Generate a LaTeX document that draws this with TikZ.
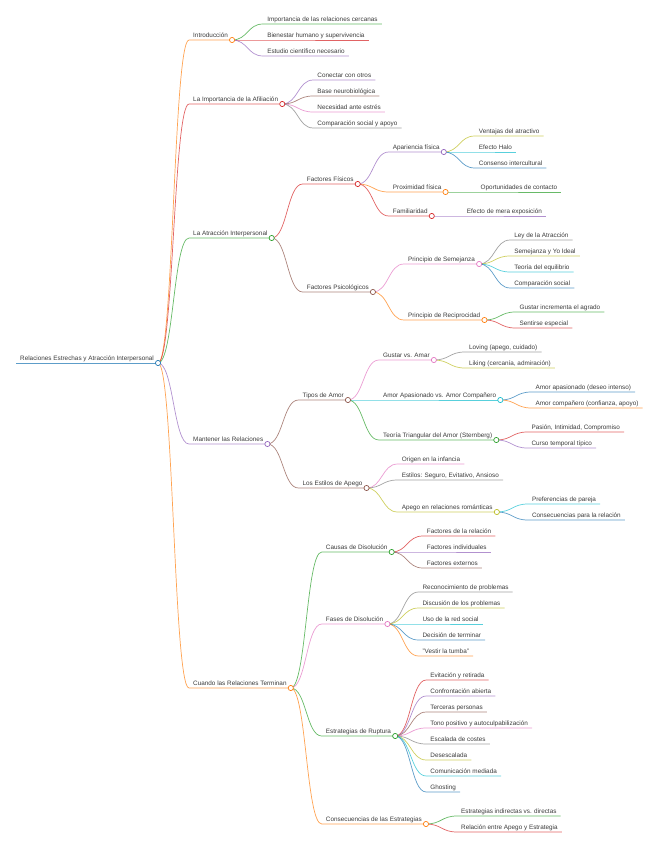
\documentclass[tikz,border=0pt]{standalone}
\usepackage{fontspec}
\setmainfont{Liberation Sans}
\usetikzlibrary{calc}
\definecolor{ink}{HTML}{3A3A3A}
\definecolor{mblue}{HTML}{1F77B4}
\definecolor{morange}{HTML}{FF7F0E}
\definecolor{mgreen}{HTML}{2CA02C}
\definecolor{mred}{HTML}{D62728}
\definecolor{mpurple}{HTML}{9467BD}
\definecolor{mbrown}{HTML}{8C564B}
\definecolor{mpink}{HTML}{E377C2}
\definecolor{mgray}{HTML}{7F7F7F}
\definecolor{molive}{HTML}{BCBD22}
\definecolor{mcyan}{HTML}{17BECF}
\tikzset{
  topic/.style={anchor=south west, inner xsep=4pt, inner ysep=2pt, text depth=0pt,
    text=ink, font=\fontsize{6.36}{7.5}\selectfont},
  link/.style={draw=#1, draw opacity=0.72, line width=0.7pt},
  knob/.style={draw=#1, fill=white, line width=0.7pt},
}

\begin{document}
\begin{tikzpicture}[x=1pt,y=-1pt]
            \useasboundingbox (0,0) rectangle (658,848);
            \node[topic] (root) at (16,363) {Relaciones Estrechas y Atracción Interpersonal};
            % first level
            \node[topic] (intro) at ($(root.south east)+(31,-323)$) {Introducción};
            \node[topic] (afil) at ($(root.south east)+(31,-259)$) {La Importancia de la Afiliación};
            \node[topic] (atrac) at ($(root.south east)+(31,-125)$) {La Atracción Interpersonal};
            \node[topic] (mant) at ($(root.south east)+(31,81)$) {Mantener las Relaciones};
            \node[topic] (fin) at ($(root.south east)+(31,325)$) {Cuando las Relaciones Terminan};
            % Introduccion
            \node[topic] (intro1) at ($(intro.south east)+(31,-16)$) {Importancia de las relaciones cercanas};
            \node[topic] (intro2) at ($(intro.south east)+(31,0)$) {Bienestar humano y supervivencia};
            \node[topic] (intro3) at ($(intro.south east)+(31,16)$) {Estudio científico necesario};
            % Afiliacion
            \node[topic] (afil1) at ($(afil.south east)+(31,-24)$) {Conectar con otros};
            \node[topic] (afil2) at ($(afil.south east)+(31,-8)$) {Base neurobiológica};
            \node[topic] (afil3) at ($(afil.south east)+(31,8)$) {Necesidad ante estrés};
            \node[topic] (afil4) at ($(afil.south east)+(31,24)$) {Comparación social y apoyo};
            % Atraccion
            \node[topic] (fisicos) at ($(atrac.south east)+(31,-54)$) {Factores Físicos};
            \node[topic] (psico) at ($(atrac.south east)+(31,54)$) {Factores Psicológicos};
            \node[topic] (apariencia) at ($(fisicos.south east)+(31,-32)$) {Apariencia física};
            \node[topic] (proximidad) at ($(fisicos.south east)+(31,8)$) {Proximidad física};
            \node[topic] (familiaridad) at ($(fisicos.south east)+(31,32)$) {Familiaridad};
            \node[topic] (apar1) at ($(apariencia.south east)+(31,-16)$) {Ventajas del atractivo};
            \node[topic] (apar2) at ($(apariencia.south east)+(31,0)$) {Efecto Halo};
            \node[topic] (apar3) at ($(apariencia.south east)+(31,16)$) {Consenso intercultural};
            \node[topic] (prox1) at ($(proximidad.south east)+(31,0)$) {Oportunidades de contacto};
            \node[topic] (fam1) at ($(familiaridad.south east)+(31,0)$) {Efecto de mera exposición};
            \node[topic] (semejanza) at ($(psico.south east)+(31,-28)$) {Principio de Semejanza};
            \node[topic] (reciprocidad) at ($(psico.south east)+(31,28)$) {Principio de Reciprocidad};
            \node[topic] (sem1) at ($(semejanza.south east)+(31,-24)$) {Ley de la Atracción};
            \node[topic] (sem2) at ($(semejanza.south east)+(31,-8)$) {Semejanza y Yo Ideal};
            \node[topic] (sem3) at ($(semejanza.south east)+(31,8)$) {Teoría del equilibrio};
            \node[topic] (sem4) at ($(semejanza.south east)+(31,24)$) {Comparación social};
            \node[topic] (rec1) at ($(reciprocidad.south east)+(31,-8)$) {Gustar incrementa el agrado};
            \node[topic] (rec2) at ($(reciprocidad.south east)+(31,8)$) {Sentirse especial};
            % Mantener
            \node[topic] (tipos) at ($(mant.south east)+(31,-44)$) {Tipos de Amor};
            \node[topic] (apego) at ($(mant.south east)+(31,44)$) {Los Estilos de Apego};
            \node[topic] (gustar) at ($(tipos.south east)+(31,-40)$) {Gustar vs. Amar};
            \node[topic] (apasionado) at ($(tipos.south east)+(31,0)$) {Amor Apasionado vs. Amor Compañero};
            \node[topic] (triangular) at ($(tipos.south east)+(31,40)$) {Teoría Triangular del Amor (Sternberg)};
            \node[topic] (gus1) at ($(gustar.south east)+(31,-8)$) {Loving (apego, cuidado)};
            \node[topic] (gus2) at ($(gustar.south east)+(31,8)$) {Liking (cercanía, admiración)};
            \node[topic] (apa1) at ($(apasionado.south east)+(31,-8)$) {Amor apasionado (deseo intenso)};
            \node[topic] (apa2) at ($(apasionado.south east)+(31,8)$) {Amor compañero (confianza, apoyo)};
            \node[topic] (tri1) at ($(triangular.south east)+(31,-8)$) {Pasión, Intimidad, Compromiso};
            \node[topic] (tri2) at ($(triangular.south east)+(31,8)$) {Curso temporal típico};
            \node[topic] (ape1) at ($(apego.south east)+(31,-24)$) {Origen en la infancia};
            \node[topic] (ape2) at ($(apego.south east)+(31,-8)$) {Estilos: Seguro, Evitativo, Ansioso};
            \node[topic] (romantico) at ($(apego.south east)+(31,24)$) {Apego en relaciones románticas};
            \node[topic] (rom1) at ($(romantico.south east)+(31,-8)$) {Preferencias de pareja};
            \node[topic] (rom2) at ($(romantico.south east)+(31,8)$) {Consecuencias para la relación};
            % Cuando terminan
            \node[topic] (causas) at ($(fin.south east)+(31,-136)$) {Causas de Disolución};
            \node[topic] (fases) at ($(fin.south east)+(31,-64)$) {Fases de Disolución};
            \node[topic] (ruptura) at ($(fin.south east)+(31,48)$) {Estrategias de Ruptura};
            \node[topic] (consec) at ($(fin.south east)+(31,136)$) {Consecuencias de las Estrategias};
            \node[topic] (cau1) at ($(causas.south east)+(31,-16)$) {Factores de la relación};
            \node[topic] (cau2) at ($(causas.south east)+(31,0)$) {Factores individuales};
            \node[topic] (cau3) at ($(causas.south east)+(31,16)$) {Factores externos};
            \node[topic] (fas1) at ($(fases.south east)+(31,-32)$) {Reconocimiento de problemas};
            \node[topic] (fas2) at ($(fases.south east)+(31,-16)$) {Discusión de los problemas};
            \node[topic] (fas3) at ($(fases.south east)+(31,0)$) {Uso de la red social};
            \node[topic] (fas4) at ($(fases.south east)+(31,16)$) {Decisión de terminar};
            \node[topic] (fas5) at ($(fases.south east)+(31,32)$) {"Vestir la tumba"};
            \node[topic] (rup1) at ($(ruptura.south east)+(31,-56)$) {Evitación y retirada};
            \node[topic] (rup2) at ($(ruptura.south east)+(31,-40)$) {Confrontación abierta};
            \node[topic] (rup3) at ($(ruptura.south east)+(31,-24)$) {Terceras personas};
            \node[topic] (rup4) at ($(ruptura.south east)+(31,-8)$) {Tono positivo y autoculpabilización};
            \node[topic] (rup5) at ($(ruptura.south east)+(31,8)$) {Escalada de costes};
            \node[topic] (rup6) at ($(ruptura.south east)+(31,24)$) {Desescalada};
            \node[topic] (rup7) at ($(ruptura.south east)+(31,40)$) {Comunicación mediada};
            \node[topic] (rup8) at ($(ruptura.south east)+(31,56)$) {Ghosting};
            \node[topic] (con1) at ($(consec.south east)+(31,-8)$) {Estrategias indirectas vs. directas};
            \node[topic] (con2) at ($(consec.south east)+(31,8)$) {Relación entre Apego y Estrategia};
            % links and underlines
            \draw[link=mblue] (root.south west) -- (root.south east);
            \draw[link=morange] (root.south east) .. controls +(15.5,0) and +(-15.5,0) .. (intro.south west) -- (intro.south east);
            \draw[link=mred] (root.south east) .. controls +(15.5,0) and +(-15.5,0) .. (afil.south west) -- (afil.south east);
            \draw[link=mgreen] (root.south east) .. controls +(15.5,0) and +(-15.5,0) .. (atrac.south west) -- (atrac.south east);
            \draw[link=mpurple] (root.south east) .. controls +(15.5,0) and +(-15.5,0) .. (mant.south west) -- (mant.south east);
            \draw[link=morange] (root.south east) .. controls +(15.5,0) and +(-15.5,0) .. (fin.south west) -- (fin.south east);
            \draw[link=mgreen] (intro.south east) .. controls +(15.5,0) and +(-15.5,0) .. (intro1.south west) -- (intro1.south east);
            \draw[link=mred] (intro.south east) .. controls +(15.5,0) and +(-15.5,0) .. (intro2.south west) -- (intro2.south east);
            \draw[link=mpurple] (intro.south east) .. controls +(15.5,0) and +(-15.5,0) .. (intro3.south west) -- (intro3.south east);
            \draw[link=mpurple] (afil.south east) .. controls +(15.5,0) and +(-15.5,0) .. (afil1.south west) -- (afil1.south east);
            \draw[link=mbrown] (afil.south east) .. controls +(15.5,0) and +(-15.5,0) .. (afil2.south west) -- (afil2.south east);
            \draw[link=mpink] (afil.south east) .. controls +(15.5,0) and +(-15.5,0) .. (afil3.south west) -- (afil3.south east);
            \draw[link=mgray] (afil.south east) .. controls +(15.5,0) and +(-15.5,0) .. (afil4.south west) -- (afil4.south east);
            \draw[link=mred] (atrac.south east) .. controls +(15.5,0) and +(-15.5,0) .. (fisicos.south west) -- (fisicos.south east);
            \draw[link=mbrown] (atrac.south east) .. controls +(15.5,0) and +(-15.5,0) .. (psico.south west) -- (psico.south east);
            \draw[link=mpurple] (fisicos.south east) .. controls +(15.5,0) and +(-15.5,0) .. (apariencia.south west) -- (apariencia.south east);
            \draw[link=morange] (fisicos.south east) .. controls +(15.5,0) and +(-15.5,0) .. (proximidad.south west) -- (proximidad.south east);
            \draw[link=mred] (fisicos.south east) .. controls +(15.5,0) and +(-15.5,0) .. (familiaridad.south west) -- (familiaridad.south east);
            \draw[link=molive] (apariencia.south east) .. controls +(15.5,0) and +(-15.5,0) .. (apar1.south west) -- (apar1.south east);
            \draw[link=mcyan] (apariencia.south east) .. controls +(15.5,0) and +(-15.5,0) .. (apar2.south west) -- (apar2.south east);
            \draw[link=mblue] (apariencia.south east) .. controls +(15.5,0) and +(-15.5,0) .. (apar3.south west) -- (apar3.south east);
            \draw[link=mgreen] (proximidad.south east) -- (prox1.south west) -- (prox1.south east);
            \draw[link=mpurple] (familiaridad.south east) -- (fam1.south west) -- (fam1.south east);
            \draw[link=mpink] (psico.south east) .. controls +(15.5,0) and +(-15.5,0) .. (semejanza.south west) -- (semejanza.south east);
            \draw[link=morange] (psico.south east) .. controls +(15.5,0) and +(-15.5,0) .. (reciprocidad.south west) -- (reciprocidad.south east);
            \draw[link=mgray] (semejanza.south east) .. controls +(15.5,0) and +(-15.5,0) .. (sem1.south west) -- (sem1.south east);
            \draw[link=molive] (semejanza.south east) .. controls +(15.5,0) and +(-15.5,0) .. (sem2.south west) -- (sem2.south east);
            \draw[link=mcyan] (semejanza.south east) .. controls +(15.5,0) and +(-15.5,0) .. (sem3.south west) -- (sem3.south east);
            \draw[link=mblue] (semejanza.south east) .. controls +(15.5,0) and +(-15.5,0) .. (sem4.south west) -- (sem4.south east);
            \draw[link=mgreen] (reciprocidad.south east) .. controls +(15.5,0) and +(-15.5,0) .. (rec1.south west) -- (rec1.south east);
            \draw[link=mred] (reciprocidad.south east) .. controls +(15.5,0) and +(-15.5,0) .. (rec2.south west) -- (rec2.south east);
            \draw[link=mbrown] (mant.south east) .. controls +(15.5,0) and +(-15.5,0) .. (tipos.south west) -- (tipos.south east);
            \draw[link=mbrown] (mant.south east) .. controls +(15.5,0) and +(-15.5,0) .. (apego.south west) -- (apego.south east);
            \draw[link=mpink] (tipos.south east) .. controls +(15.5,0) and +(-15.5,0) .. (gustar.south west) -- (gustar.south east);
            \draw[link=mcyan] (tipos.south east) -- (apasionado.south west) -- (apasionado.south east);
            \draw[link=mgreen] (tipos.south east) .. controls +(15.5,0) and +(-15.5,0) .. (triangular.south west) -- (triangular.south east);
            \draw[link=mgray] (gustar.south east) .. controls +(15.5,0) and +(-15.5,0) .. (gus1.south west) -- (gus1.south east);
            \draw[link=molive] (gustar.south east) .. controls +(15.5,0) and +(-15.5,0) .. (gus2.south west) -- (gus2.south east);
            \draw[link=mblue] (apasionado.south east) .. controls +(15.5,0) and +(-15.5,0) .. (apa1.south west) -- (apa1.south east);
            \draw[link=morange] (apasionado.south east) .. controls +(15.5,0) and +(-15.5,0) .. (apa2.south west) -- (apa2.south east);
            \draw[link=mred] (triangular.south east) .. controls +(15.5,0) and +(-15.5,0) .. (tri1.south west) -- (tri1.south east);
            \draw[link=mpurple] (triangular.south east) .. controls +(15.5,0) and +(-15.5,0) .. (tri2.south west) -- (tri2.south east);
            \draw[link=mpink] (apego.south east) .. controls +(15.5,0) and +(-15.5,0) .. (ape1.south west) -- (ape1.south east);
            \draw[link=mgray] (apego.south east) .. controls +(15.5,0) and +(-15.5,0) .. (ape2.south west) -- (ape2.south east);
            \draw[link=molive] (apego.south east) .. controls +(15.5,0) and +(-15.5,0) .. (romantico.south west) -- (romantico.south east);
            \draw[link=mcyan] (romantico.south east) .. controls +(15.5,0) and +(-15.5,0) .. (rom1.south west) -- (rom1.south east);
            \draw[link=mblue] (romantico.south east) .. controls +(15.5,0) and +(-15.5,0) .. (rom2.south west) -- (rom2.south east);
            \draw[link=mgreen] (fin.south east) .. controls +(15.5,0) and +(-15.5,0) .. (causas.south west) -- (causas.south east);
            \draw[link=mpink] (fin.south east) .. controls +(15.5,0) and +(-15.5,0) .. (fases.south west) -- (fases.south east);
            \draw[link=mgreen] (fin.south east) .. controls +(15.5,0) and +(-15.5,0) .. (ruptura.south west) -- (ruptura.south east);
            \draw[link=morange] (fin.south east) .. controls +(15.5,0) and +(-15.5,0) .. (consec.south west) -- (consec.south east);
            \draw[link=mred] (causas.south east) .. controls +(15.5,0) and +(-15.5,0) .. (cau1.south west) -- (cau1.south east);
            \draw[link=mpurple] (causas.south east) -- (cau2.south west) -- (cau2.south east);
            \draw[link=mbrown] (causas.south east) .. controls +(15.5,0) and +(-15.5,0) .. (cau3.south west) -- (cau3.south east);
            \draw[link=mgray] (fases.south east) .. controls +(15.5,0) and +(-15.5,0) .. (fas1.south west) -- (fas1.south east);
            \draw[link=molive] (fases.south east) .. controls +(15.5,0) and +(-15.5,0) .. (fas2.south west) -- (fas2.south east);
            \draw[link=mcyan] (fases.south east) -- (fas3.south west) -- (fas3.south east);
            \draw[link=mblue] (fases.south east) .. controls +(15.5,0) and +(-15.5,0) .. (fas4.south west) -- (fas4.south east);
            \draw[link=morange] (fases.south east) .. controls +(15.5,0) and +(-15.5,0) .. (fas5.south west) -- (fas5.south east);
            \draw[link=mred] (ruptura.south east) .. controls +(15.5,0) and +(-15.5,0) .. (rup1.south west) -- (rup1.south east);
            \draw[link=mpurple] (ruptura.south east) .. controls +(15.5,0) and +(-15.5,0) .. (rup2.south west) -- (rup2.south east);
            \draw[link=mbrown] (ruptura.south east) .. controls +(15.5,0) and +(-15.5,0) .. (rup3.south west) -- (rup3.south east);
            \draw[link=mpink] (ruptura.south east) .. controls +(15.5,0) and +(-15.5,0) .. (rup4.south west) -- (rup4.south east);
            \draw[link=mgray] (ruptura.south east) .. controls +(15.5,0) and +(-15.5,0) .. (rup5.south west) -- (rup5.south east);
            \draw[link=molive] (ruptura.south east) .. controls +(15.5,0) and +(-15.5,0) .. (rup6.south west) -- (rup6.south east);
            \draw[link=mcyan] (ruptura.south east) .. controls +(15.5,0) and +(-15.5,0) .. (rup7.south west) -- (rup7.south east);
            \draw[link=mblue] (ruptura.south east) .. controls +(15.5,0) and +(-15.5,0) .. (rup8.south west) -- (rup8.south east);
            \draw[link=mgreen] (consec.south east) .. controls +(15.5,0) and +(-15.5,0) .. (con1.south west) -- (con1.south east);
            \draw[link=mred] (consec.south east) .. controls +(15.5,0) and +(-15.5,0) .. (con2.south west) -- (con2.south east);
            % open circles on the branching points
            \draw[knob=mblue] (root.south east) circle[radius=2.6pt];
            \draw[knob=morange] (intro.south east) circle[radius=2.6pt];
            \draw[knob=mred] (afil.south east) circle[radius=2.6pt];
            \draw[knob=mgreen] (atrac.south east) circle[radius=2.6pt];
            \draw[knob=mpurple] (mant.south east) circle[radius=2.6pt];
            \draw[knob=morange] (fin.south east) circle[radius=2.6pt];
            \draw[knob=mred] (fisicos.south east) circle[radius=2.6pt];
            \draw[knob=mbrown] (psico.south east) circle[radius=2.6pt];
            \draw[knob=mpurple] (apariencia.south east) circle[radius=2.6pt];
            \draw[knob=morange] (proximidad.south east) circle[radius=2.6pt];
            \draw[knob=mred] (familiaridad.south east) circle[radius=2.6pt];
            \draw[knob=mpink] (semejanza.south east) circle[radius=2.6pt];
            \draw[knob=morange] (reciprocidad.south east) circle[radius=2.6pt];
            \draw[knob=mbrown] (tipos.south east) circle[radius=2.6pt];
            \draw[knob=mbrown] (apego.south east) circle[radius=2.6pt];
            \draw[knob=mpink] (gustar.south east) circle[radius=2.6pt];
            \draw[knob=mcyan] (apasionado.south east) circle[radius=2.6pt];
            \draw[knob=mgreen] (triangular.south east) circle[radius=2.6pt];
            \draw[knob=molive] (romantico.south east) circle[radius=2.6pt];
            \draw[knob=mgreen] (causas.south east) circle[radius=2.6pt];
            \draw[knob=mpink] (fases.south east) circle[radius=2.6pt];
            \draw[knob=mgreen] (ruptura.south east) circle[radius=2.6pt];
            \draw[knob=morange] (consec.south east) circle[radius=2.6pt];
\end{tikzpicture}
\end{document}
